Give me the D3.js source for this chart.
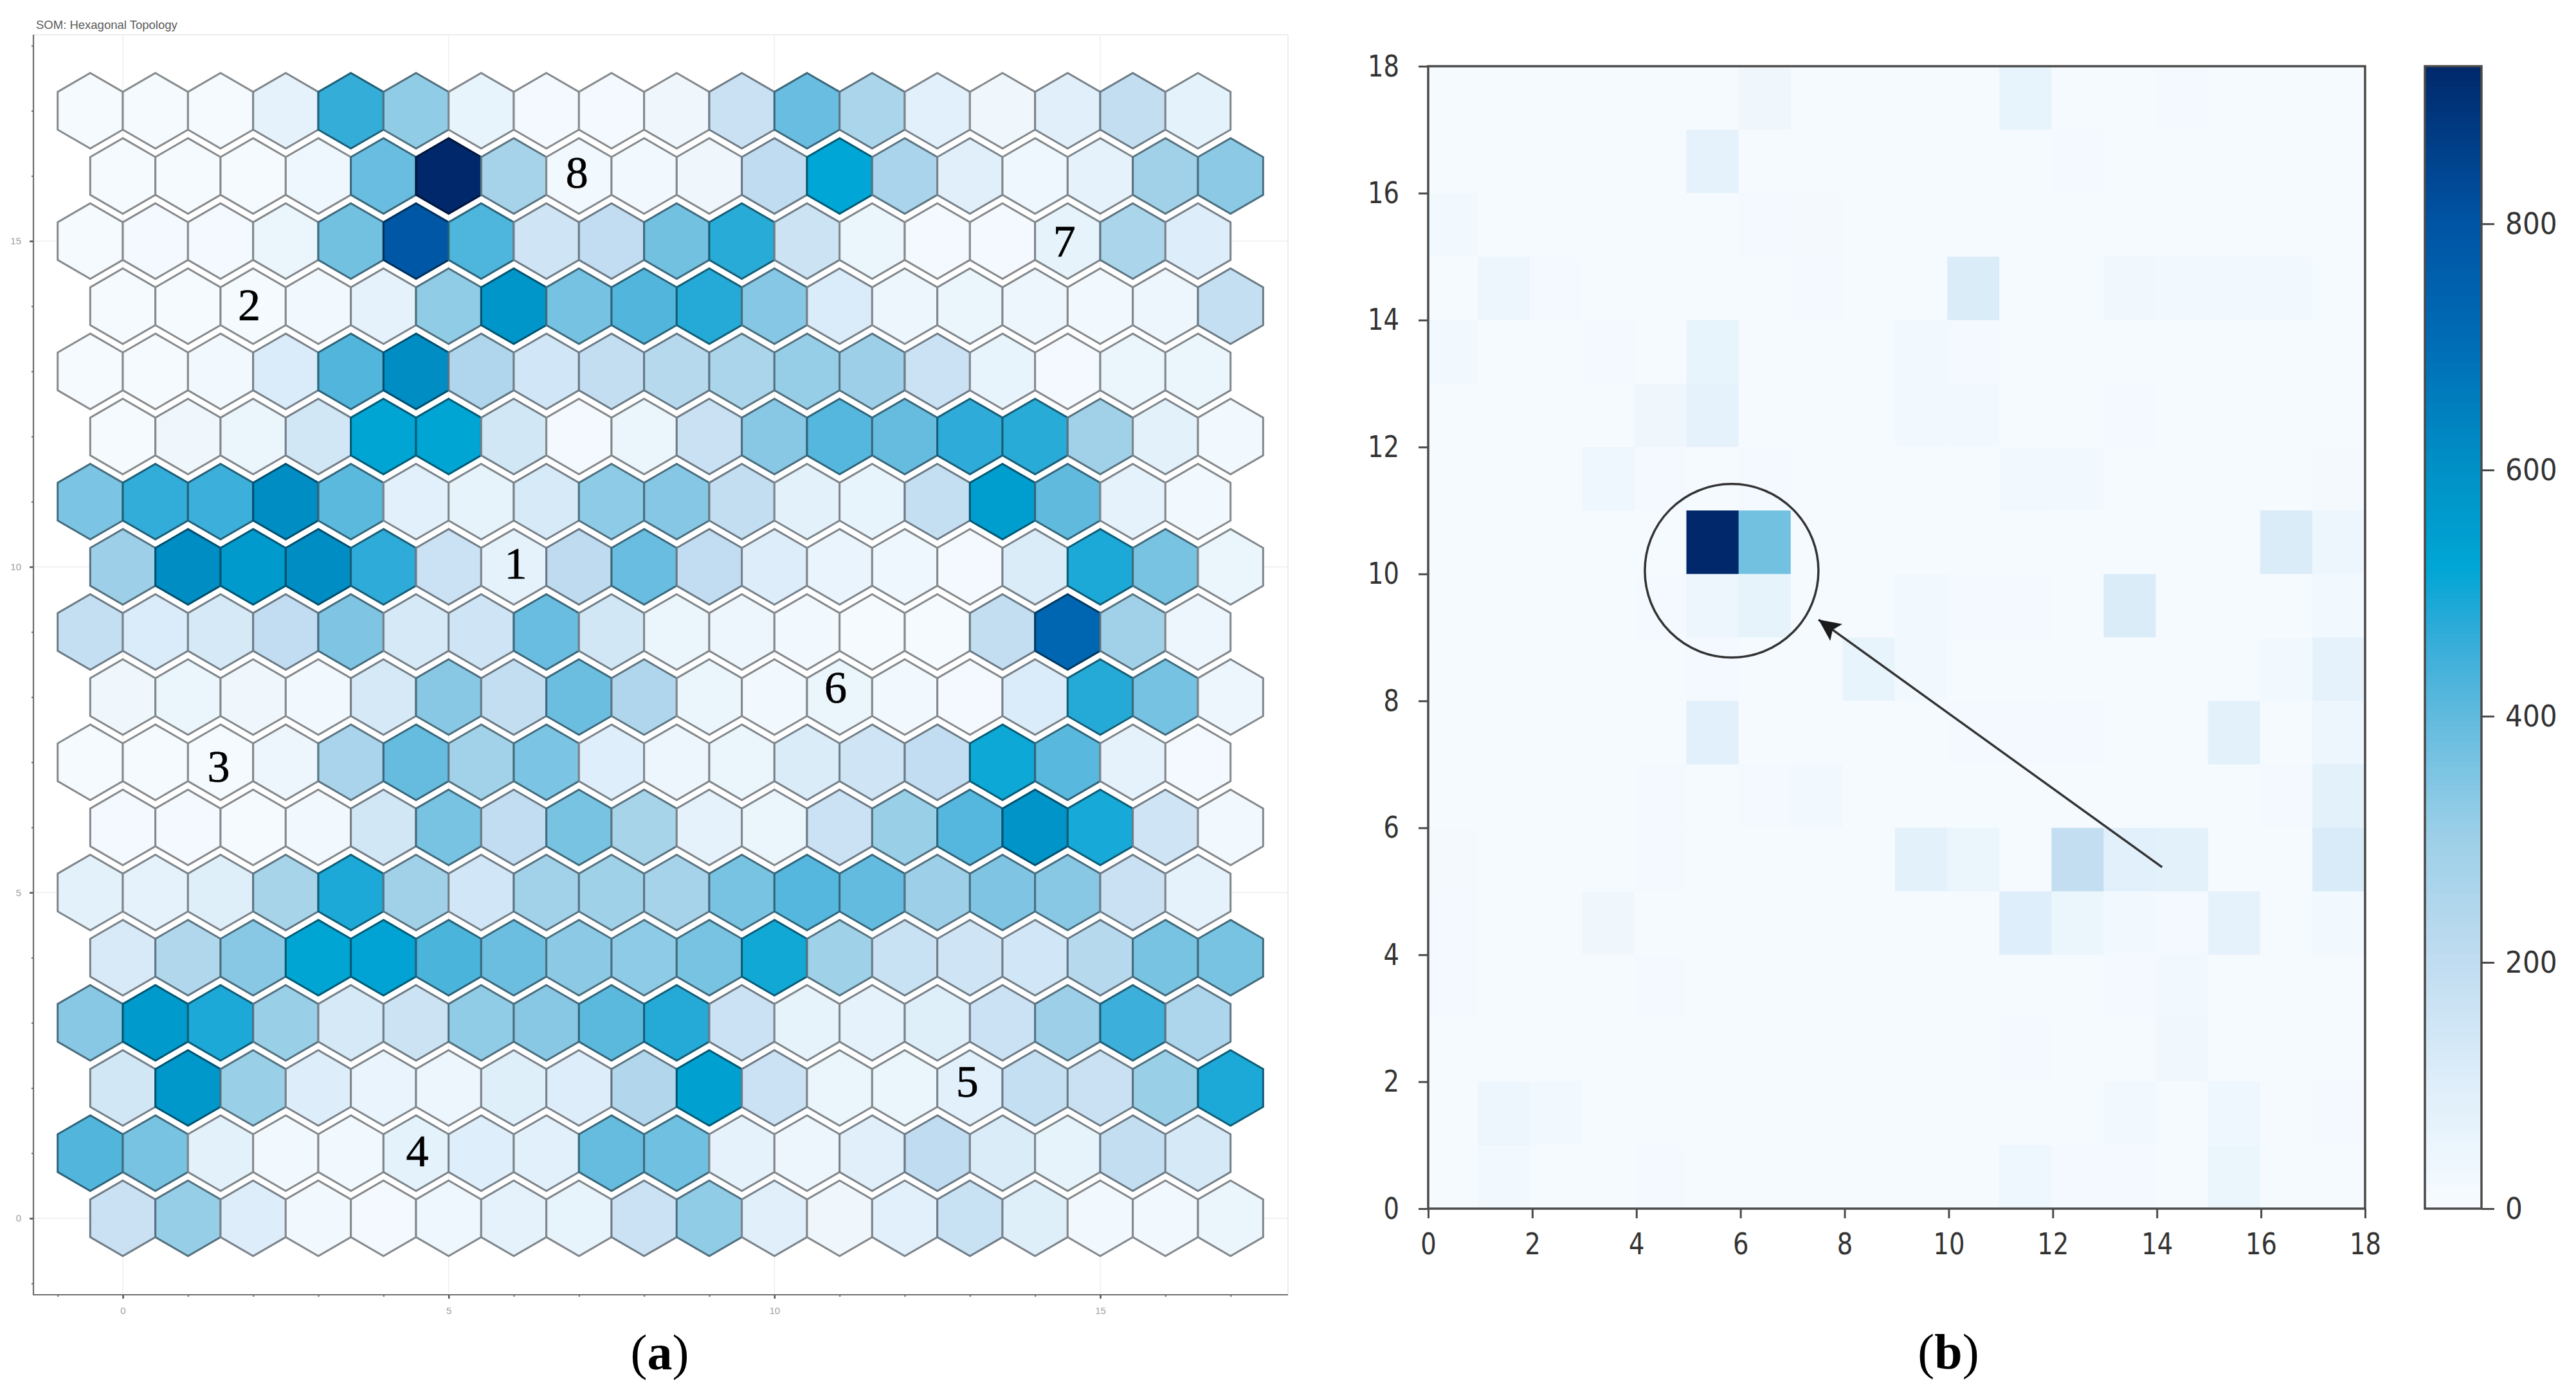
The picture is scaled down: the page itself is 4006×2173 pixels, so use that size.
<!DOCTYPE html>
<html>
<head>
<meta charset="utf-8">
<script src="https://cdn.jsdelivr.net/npm/d3@7"></script>
<style>
  html, body { margin: 0; padding: 0; background: #fff; }
  svg { display: block; }
</style>
</head>
<body>
<div id="plot"></div>
<script>
// SOM hit counts, rows listed from the top one (y = 17) down to y = 0
const hexCounts = [
  [10, 12, 12, 70, 460, 320, 60, 15, 15, 30, 170, 385, 260, 85, 30, 90, 190, 75],
  [10, 12, 12, 35, 385, 928, 275, 20, 18, 30, 200, 520, 265, 90, 35, 70, 290, 330],
  [10, 15, 15, 50, 370, 790, 425, 150, 195, 370, 475, 160, 45, 15, 15, 65, 260, 105],
  [10, 10, 10, 18, 70, 320, 580, 365, 420, 480, 340, 115, 40, 45, 40, 18, 40, 185],
  [8, 8, 18, 115, 420, 610, 250, 145, 190, 225, 260, 310, 300, 165, 60, 15, 50, 45],
  [10, 30, 45, 140, 525, 525, 140, 15, 45, 170, 335, 415, 390, 470, 475, 290, 80, 20],
  [355, 465, 450, 610, 405, 85, 65, 125, 325, 340, 190, 80, 60, 185, 550, 400, 70, 18],
  [300, 610, 565, 610, 470, 165, 70, 205, 385, 195, 105, 55, 35, 15, 110, 490, 360, 50],
  [185, 115, 130, 195, 350, 130, 150, 385, 140, 45, 40, 25, 8, 8, 190, 730, 290, 40],
  [30, 50, 30, 25, 130, 335, 190, 380, 250, 45, 25, 45, 25, 15, 115, 480, 365, 40],
  [12, 12, 12, 40, 265, 390, 285, 355, 100, 40, 50, 110, 150, 195, 505, 410, 70, 15],
  [15, 15, 8, 20, 140, 360, 195, 360, 270, 70, 45, 165, 305, 415, 585, 495, 150, 18],
  [80, 70, 95, 270, 490, 290, 145, 285, 295, 275, 360, 415, 395, 300, 350, 335, 170, 70],
  [120, 245, 335, 525, 530, 430, 380, 330, 325, 360, 500, 295, 175, 150, 145, 225, 360, 360],
  [335, 565, 490, 305, 130, 160, 320, 335, 405, 480, 165, 65, 70, 95, 165, 300, 450, 255],
  [140, 575, 305, 105, 55, 40, 95, 105, 240, 540, 165, 50, 50, 85, 185, 170, 305, 490],
  [420, 360, 80, 18, 18, 75, 100, 85, 390, 375, 70, 40, 90, 200, 110, 65, 190, 130],
  [170, 310, 105, 18, 15, 35, 70, 60, 165, 320, 90, 30, 85, 175, 95, 20, 25, 50]
];

// Heat map counts, rows listed from the top one (17-18) down to 0-1
const heatCounts = [
  [8, 8, 8, 8, 8, 8, 30, 8, 8, 8, 8, 60, 10, 10, 15, 8, 8, 8],
  [8, 8, 8, 8, 8, 70, 8, 8, 8, 8, 8, 8, 14, 8, 8, 8, 8, 8],
  [20, 8, 8, 12, 8, 8, 15, 13, 8, 8, 8, 8, 9, 10, 9, 10, 8, 8],
  [9, 40, 15, 8, 8, 8, 8, 16, 12, 12, 110, 12, 12, 28, 18, 20, 24, 8],
  [22, 8, 8, 15, 8, 60, 8, 8, 8, 20, 15, 8, 8, 8, 8, 8, 8, 8],
  [9, 8, 12, 8, 30, 70, 8, 8, 8, 20, 20, 8, 8, 14, 8, 8, 8, 10],
  [10, 8, 8, 34, 14, 8, 14, 8, 8, 8, 8, 18, 18, 9, 8, 8, 8, 13],
  [9, 8, 8, 10, 8, 928, 370, 8, 8, 8, 12, 12, 8, 8, 8, 10, 110, 40],
  [10, 8, 8, 9, 14, 42, 65, 8, 8, 22, 15, 15, 9, 110, 8, 8, 8, 25],
  [8, 8, 8, 8, 12, 14, 8, 12, 58, 18, 8, 8, 8, 8, 8, 8, 20, 70],
  [8, 8, 8, 8, 8, 85, 12, 9, 8, 10, 15, 15, 15, 8, 8, 78, 8, 38],
  [8, 8, 8, 8, 14, 8, 14, 22, 8, 10, 8, 8, 8, 8, 8, 8, 15, 80],
  [13, 8, 8, 8, 14, 8, 8, 8, 8, 80, 50, 8, 190, 85, 78, 8, 8, 118],
  [16, 8, 8, 32, 8, 8, 8, 8, 8, 8, 8, 100, 45, 18, 14, 68, 8, 22],
  [14, 8, 8, 8, 15, 8, 8, 8, 12, 8, 8, 12, 9, 14, 18, 8, 8, 8],
  [9, 8, 12, 12, 8, 8, 11, 11, 9, 8, 8, 14, 8, 8, 28, 8, 8, 8],
  [8, 42, 20, 8, 8, 8, 8, 8, 9, 8, 8, 8, 8, 25, 8, 36, 8, 14],
  [8, 24, 8, 8, 16, 8, 8, 8, 9, 8, 8, 34, 14, 14, 8, 50, 8, 8]
];

const somTicks = [0, 5, 10, 15];
const somMinorX = d3.range(-1, 18);
const somMinorY = d3.range(-1, 19);
const heatTicks = [0, 2, 4, 6, 8, 10, 12, 14, 16, 18];
const barTicks = [0, 200, 400, 600, 800];

// Numbers written on the SOM, x and y in map units
const somLabels = ["8", "2", "7", "1", "6", "3", "4", "5"];
const somLabelX = [6.97, 1.94, 14.45, 6.03, 10.94, 1.47, 4.52, 12.96];
const somLabelY = [16.05, 14.02, 15.0, 10.05, 8.15, 6.94, 1.03, 2.1];

// Circle and arrow drawn over the heat map, in heat map units
const circleAt = [5.83, 10.05];
const arrowTail = [14.1, 5.38];
const arrowTip = [7.5, 9.28];

const maxCount = 928;

const colorStops = [0, 50, 100, 200, 300, 400, 470, 520, 600, 700, 800, maxCount];
const colorValues = ["#f7fbff", "#eaf5fc", "#deeefa", "#c0dcf0", "#9dd0e8", "#60bade",
  "#2eabd8", "#00a6d5", "#0090c6", "#006db6", "#0054a4", "#00286a"];
const color = d3.scaleLinear().domain(colorStops).range(colorValues);

const svg = d3.select("#plot")
  .append("svg")
  .attr("width", 4006)
  .attr("height", 2173);

// ----- panel (a): hexagonal SOM -----
const somBox = { left: 52, right: 2003, top: 54, bottom: 2014 };

const somX = d3.scaleLinear().domain([0, 15]).range([191, 1711]);
const somY = d3.scaleLinear().domain([0, 15]).range([1895, 375]);

const som = svg.append("g");

som.append("text")
  .attr("x", somBox.left + 4)
  .attr("y", 45)
  .attr("font-family", "Liberation Sans")
  .attr("font-size", 18.5)
  .attr("fill", "#5a5a5a")
  .text("SOM: Hexagonal Topology");

// Light frame and grid lines
som.append("path")
  .attr("d", `M${somBox.left},${somBox.top}H${somBox.right}V${somBox.bottom}`)
  .attr("fill", "none")
  .attr("stroke", "#ececec")
  .attr("stroke-width", 2);

som.selectAll("line.gridx")
  .data(somTicks)
  .join("line")
  .attr("class", "gridx")
  .attr("x1", d => somX(d))
  .attr("x2", d => somX(d))
  .attr("y1", somBox.top)
  .attr("y2", somBox.bottom)
  .attr("stroke", "#eeeeee")
  .attr("stroke-width", 1.5);

som.selectAll("line.gridy")
  .data(somTicks)
  .join("line")
  .attr("class", "gridy")
  .attr("y1", d => somY(d))
  .attr("y2", d => somY(d))
  .attr("x1", somBox.left)
  .attr("x2", somBox.right)
  .attr("stroke", "#eeeeee")
  .attr("stroke-width", 1.5);

// Axes of the SOM: minor ticks first, then the labelled ones
function somAxis(axis, minor, transform) {
  const g = som.append("g").attr("transform", transform);
  g.call(axis.tickValues(minor).tickFormat("").tickSize(3).tickSizeOuter(0));
  g.selectAll("path.domain").remove();
  g.selectAll("line").attr("stroke", "#666").attr("stroke-width", 2);
  const major = som.append("g").attr("transform", transform);
  major.call(axis.tickValues(somTicks).tickFormat(d => d).tickSize(6).tickPadding(13));
  major.selectAll("path.domain").remove();
  major.selectAll("line").attr("stroke", "#555").attr("stroke-width", 2.5);
  major.selectAll("text")
    .attr("font-family", "Liberation Sans")
    .attr("font-size", 15)
    .attr("fill", "#a0a0a0");
}

somAxis(d3.axisLeft(somY), somMinorY, `translate(${somBox.left},0)`);
somAxis(d3.axisBottom(somX), somMinorX, `translate(0,${somBox.bottom})`);

som.append("path")
  .attr("d", `M${somBox.left},${somBox.top}V${somBox.bottom}H${somBox.right}`)
  .attr("fill", "none")
  .attr("stroke", "#6e6e6e")
  .attr("stroke-width", 2.2);

// Hexagons, points up. Odd rows are shifted half a cell to the left
const hexR = 0.58;
const hexLine = d3.line().x(d => somX(d[0])).y(d => somY(d[1]));
const hexCells = hexCounts.flatMap((row, i) =>
  row.map((count, col) => {
    const r = 17 - i;
    return { count, x: col - (r % 2 ? 0.5 : 0), y: r };
  })
);

som.selectAll("path.hex")
  .data(hexCells)
  .join("path")
  .attr("class", "hex")
  .attr("d", d => hexLine([
    [d.x, d.y + hexR],
    [d.x + 0.5, d.y + hexR / 2],
    [d.x + 0.5, d.y - hexR / 2],
    [d.x, d.y - hexR],
    [d.x - 0.5, d.y - hexR / 2],
    [d.x - 0.5, d.y + hexR / 2]
  ]) + "Z")
  .attr("fill", d => color(d.count))
  .attr("stroke", d => d3.interpolateRgb(color(d.count), "#000")(0.45))
  .attr("stroke-width", 3)
  .attr("stroke-linejoin", "miter");

som.selectAll("text.num")
  .data(somLabels)
  .join("text")
  .attr("class", "num")
  .attr("x", (d, i) => somX(somLabelX[i]))
  .attr("y", (d, i) => somY(somLabelY[i]))
  .attr("dy", "0.34em")
  .attr("text-anchor", "middle")
  .attr("font-family", "Liberation Serif")
  .attr("font-size", 70)
  .attr("fill", "#000")
  .attr("stroke", "#000")
  .attr("stroke-width", 0.7)
  .text(d => d);

// ----- panel (b): heat map with colour bar -----
const heatBox = { left: 2221, right: 3678, top: 103, bottom: 1880 };

const heatX = d3.scaleLinear().domain([0, 18]).range([heatBox.left, heatBox.right]);
const heatY = d3.scaleLinear().domain([0, 18]).range([heatBox.bottom, heatBox.top]);
// the cells sit a few pixels left of the ticks in the figure
const cellX = d3.scaleLinear().domain([0, 18]).range([2217, 3677]);

const heat = svg.append("g");

const heatCells = heatCounts.flatMap((row, i) =>
  row.map((count, col) => ({ count, col, r: 17 - i }))
);

heat.append("clipPath")
  .attr("id", "heat-clip")
  .append("rect")
  .attr("x", heatBox.left)
  .attr("y", heatBox.top)
  .attr("width", heatBox.right - heatBox.left)
  .attr("height", heatBox.bottom - heatBox.top);

heat.append("g")
  .attr("clip-path", "url(#heat-clip)")
  .selectAll("rect")
  .data(heatCells)
  .join("rect")
  .attr("x", d => cellX(d.col))
  .attr("y", d => heatY(d.r + 1))
  .attr("width", d => cellX(d.col + 1) - cellX(d.col) + 0.5)
  .attr("height", d => heatY(d.r) - heatY(d.r + 1) + 0.5)
  .attr("fill", d => color(d.count));

const lineColor = "#4a4a4a";

// matplotlib text in the figure is squeezed sideways, so scale it
function styleTicks(g, squeeze) {
  g.selectAll("path.domain").remove();
  g.selectAll("line").attr("stroke", lineColor).attr("stroke-width", 3);
  g.selectAll("text")
    .attr("font-family", "DejaVu Sans")
    .attr("font-size", 47)
    .attr("fill", "#333")
    .attr("x", function () { return (+this.getAttribute("x") || 0) / squeeze; })
    .attr("transform", `scale(${squeeze},1)`);
}

heat.append("g")
  .attr("transform", `translate(0,${heatBox.bottom})`)
  .call(d3.axisBottom(heatX).tickValues(heatTicks).tickSize(15).tickSizeOuter(0).tickPadding(23))
  .call(styleTicks, 0.82);

heat.append("g")
  .attr("transform", `translate(${heatBox.left},0)`)
  .call(d3.axisLeft(heatY).tickValues(heatTicks).tickSize(15).tickSizeOuter(0).tickPadding(30))
  .call(styleTicks, 0.82);

heat.append("rect")
  .attr("x", heatBox.left)
  .attr("y", heatBox.top)
  .attr("width", heatBox.right - heatBox.left)
  .attr("height", heatBox.bottom - heatBox.top)
  .attr("fill", "none")
  .attr("stroke", lineColor)
  .attr("stroke-width", 3.5);

// Circle and arrow
heat.append("circle")
  .attr("cx", heatX(circleAt[0]))
  .attr("cy", heatY(circleAt[1]))
  .attr("r", 135)
  .attr("fill", "none")
  .attr("stroke", "#333")
  .attr("stroke-width", 3.5);

const tipX = heatX(arrowTip[0]), tipY = heatY(arrowTip[1]);
const tailX = heatX(arrowTail[0]), tailY = heatY(arrowTail[1]);
const arrowAngle = Math.atan2(tipY - tailY, tipX - tailX) * 180 / Math.PI;

heat.append("line")
  .attr("x1", tailX)
  .attr("y1", tailY)
  .attr("x2", tipX)
  .attr("y2", tipY)
  .attr("stroke", "#333")
  .attr("stroke-width", 3.5);

heat.append("path")
  .attr("d", "M0,0L-34,-16L-27,0L-34,16Z")
  .attr("transform", `translate(${tipX},${tipY}) rotate(${arrowAngle})`)
  .attr("fill", "#1c1c1c");

// Colour bar
const barBox = { left: 3771, right: 3859 };
const barY = d3.scaleLinear().domain([0, maxCount]).range([heatBox.bottom, heatBox.top]);
const barSteps = d3.range(0, maxCount, 4);

heat.append("g")
  .selectAll("rect")
  .data(barSteps)
  .join("rect")
  .attr("x", barBox.left)
  .attr("width", barBox.right - barBox.left)
  .attr("y", d => barY(d + 4))
  .attr("height", d => barY(d) - barY(d + 4) + 1)
  .attr("fill", d => color(d));

heat.append("rect")
  .attr("x", barBox.left)
  .attr("y", heatBox.top)
  .attr("width", barBox.right - barBox.left)
  .attr("height", heatBox.bottom - heatBox.top)
  .attr("fill", "none")
  .attr("stroke", lineColor)
  .attr("stroke-width", 3.5);

heat.append("g")
  .attr("transform", `translate(${barBox.right},0)`)
  .call(d3.axisRight(barY).tickValues(barTicks).tickSize(20).tickSizeOuter(0).tickPadding(17))
  .call(styleTicks, 0.9);

// Panel captions
function caption(x, y, letter) {
  const t = svg.append("text")
    .attr("x", x)
    .attr("y", y)
    .attr("text-anchor", "middle")
    .attr("font-family", "Liberation Serif")
    .attr("font-size", 78)
    .attr("fill", "#000");
  t.append("tspan").text("(");
  t.append("tspan").attr("font-weight", "bold").text(letter);
  t.append("tspan").text(")");
}

caption(1026, 2130, "a");
caption(3030, 2129, "b");
</script>
</body>
</html>
